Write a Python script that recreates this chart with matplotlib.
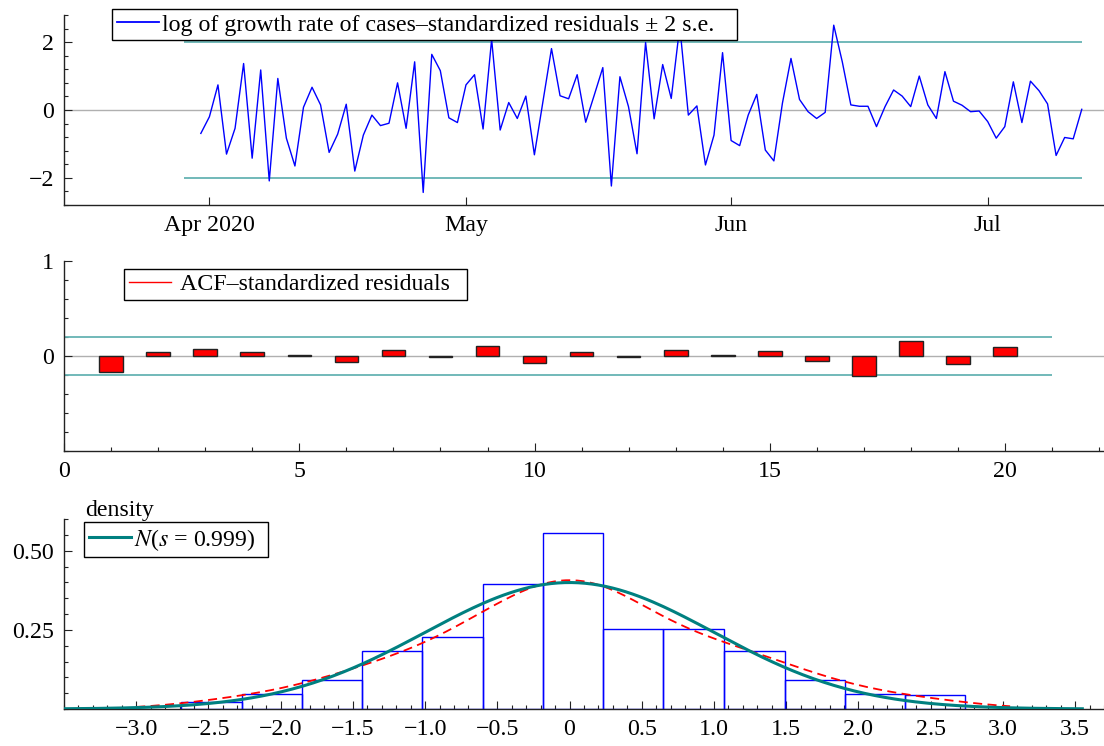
"""Residual diagnostics: standardized residuals, ACF and density."""

import matplotlib
matplotlib.use("Agg")
import matplotlib.pyplot as plt
from matplotlib.lines import Line2D
from matplotlib.ticker import MultipleLocator, FixedLocator, FuncFormatter
import numpy as np
import pandas as pd

plt.rcParams["font.family"] = ["Liberation Serif", "DejaVu Serif"]
plt.rcParams["mathtext.fontset"] = "stix"
plt.rcParams["font.size"] = 17.2

# --- data ---
dates = pd.date_range("2020-03-31", periods=104, freq="D")
resid = [
    -0.69, -0.20, 0.74, -1.30, -0.54, 1.37, -1.42, 1.18, -2.09, 0.93,
    -0.83, -1.65, 0.08, 0.67, 0.15, -1.25, -0.71, 0.17, -1.80, -0.74,
    -0.15, -0.46, -0.39, 0.80, -0.54, 1.42, -2.43, 1.64, 1.16, -0.23,
    -0.37, 0.74, 1.04, -0.56, 2.08, -0.59, 0.22, -0.25, 0.41, -1.32,
    0.25, 1.81, 0.42, 0.33, 1.04, -0.36, 0.44, 1.25, -2.24, 0.98,
    0.10, -1.29, 1.99, -0.26, 1.34, 0.34, 2.47, -0.15, 0.12, -1.62,
    -0.74, 1.69, -0.90, -1.05, -0.15, 0.46, -1.18, -1.50, 0.20, 1.52,
    0.31, -0.05, -0.25, -0.07, 2.50, 1.42, 0.15, 0.11, 0.11, -0.49,
    0.10, 0.59, 0.41, 0.10, 1.00, 0.15, -0.25, 1.13, 0.26, 0.14,
    -0.05, -0.03, -0.34, -0.83, -0.49, 0.83, -0.37, 0.85, 0.57, 0.18,
    -1.34, -0.81, -0.85, 0.02,
]
band_dates = pd.to_datetime(["2020-03-29", "2020-07-12"])
se_band = 2.0
month_ticks = pd.to_datetime(["2020-04-01", "2020-05-01", "2020-06-01", "2020-07-01"])
month_labels = ["Apr 2020", "May", "Jun", "Jul"]

lags = np.arange(1, 21)
acf = [-0.165, 0.042, 0.070, 0.046, 0.015, -0.060, 0.064, -0.014, 0.109, -0.073,
       0.038, -0.014, 0.067, 0.007, 0.053, -0.056, -0.207, 0.155, -0.084, 0.091]
acf_band = 0.196

hist_edges = [-2.69, -2.27, -1.855, -1.44, -1.02, -0.60, -0.185, 0.23,
              0.65, 1.07, 1.49, 1.905, 2.32, 2.74]
hist_counts = [1, 2, 4, 8, 10, 17, 24, 11, 11, 8, 4, 2, 2]
norm_s = 0.999

# colours
c_line = "#0000ff"
c_band = "#66b3b3"
c_zero = "#b0b0b0"
c_norm = "#008080"
c_kde = "#ff0000"
c_axis = "#222222"

W, H = 1104, 746
fig = plt.figure(figsize=(W / 100, H / 100), dpi=100)


def panel(top, bottom):
    ax = fig.add_axes([64 / W, 1 - bottom / H, 1 - 64 / W, (bottom - top) / H])
    for s in ("top", "right"):
        ax.spines[s].set_visible(False)
    for s in ("left", "bottom"):
        ax.spines[s].set_color(c_axis)
        ax.spines[s].set_linewidth(1.0)
    ax.tick_params(which="major", direction="in", length=6, width=0.8,
                   color=c_axis, pad=7)
    ax.tick_params(which="minor", direction="in", length=3, width=0.8,
                   color=c_axis)
    return ax


def box_legend(ax, handles, labels, x, y, textpad=0.15):
    leg = ax.legend(handles, labels, loc="upper left",
                    bbox_to_anchor=(x / W, 1 - y / H), bbox_transform=fig.transFigure,
                    frameon=True, fancybox=False, framealpha=1, edgecolor="black",
                    borderpad=0.2, borderaxespad=0, handletextpad=textpad,
                    handlelength=1.75)
    leg.get_frame().set_linewidth(1.0)
    leg.set_zorder(10)
    return leg


# --- (1) standardized residuals over time ---
ax1 = panel(15, 205)
ax1.axhline(0, color=c_zero, lw=1.0, zorder=1)
ax1.hlines([se_band, -se_band], band_dates[0], band_dates[1], color=c_band, lw=1.3, zorder=2)
ax1.plot(dates, resid, color=c_line, lw=1.0, zorder=3)
ax1.set_xlim(dates[0] - pd.Timedelta(days=16), dates[0] + pd.Timedelta(days=105.6))
ax1.set_ylim(-2.8, 2.8)
ax1.set_yticks([-2, 0, 2])
ax1.set_yticklabels(["\u22122", "0", "2"])
ax1.yaxis.set_minor_locator(FixedLocator(np.arange(-2.8, 2.81, 0.4)))
ax1.set_xticks(month_ticks)
ax1.set_xticklabels(month_labels)
box_legend(ax1, [Line2D([], [], color=c_line, lw=1.3)],
           ["log of growth rate of cases\u2013standardized residuals \u00b1 2 s.e.   "], 112, 9)

# --- (2) ACF ---
ax2 = panel(261, 451)
ax2.axhline(0, color=c_zero, lw=1.0, zorder=1)
ax2.hlines([acf_band, -acf_band], 0, 21, color=c_band, lw=1.3, zorder=2)
ax2.bar(lags, acf, width=0.5, color="#ff0000", edgecolor="#222222", lw=1.0, zorder=3)
ax2.set_xlim(0, 22.1)
ax2.set_ylim(-1, 1)
ax2.set_yticks([0, 1])
ax2.yaxis.set_minor_locator(FixedLocator(np.arange(-1, 1.01, 0.2)))
ax2.set_xticks([0, 5, 10, 15, 20])
ax2.xaxis.set_minor_locator(MultipleLocator(1))
box_legend(ax2, [Line2D([], [], color=c_kde, lw=1.0)],
           ["ACF\u2013standardized residuals  "], 124, 269, textpad=0.4)

# --- (3) density ---
ax3 = panel(519, 709)
edges = np.array(hist_edges)
widths = np.diff(edges)
dens = np.array(hist_counts) / (sum(hist_counts) * widths)
ax3.bar(edges[:-1], dens, width=widths, align="edge", fill=False,
        edgecolor=c_line, lw=1.0, zorder=2)

r = np.array(resid)
bw = 1.06 * r.std(ddof=1) * len(r) ** -0.2
xk = np.linspace(-3.0, 3.05, 300)
kde = np.exp(-0.5 * ((xk[:, None] - r[None, :]) / bw) ** 2).sum(axis=1) / (len(r) * bw * np.sqrt(2 * np.pi))
ax3.plot(xk, kde, color=c_kde, lw=1.3, ls=(0, (5, 3)), zorder=3)

xn = np.linspace(-3.5, 3.55, 300)
ax3.plot(xn, np.exp(-0.5 * (xn / norm_s) ** 2) / (norm_s * np.sqrt(2 * np.pi)),
         color=c_norm, lw=2.2, zorder=4)

ax3.set_xlim(-3.5, 3.7)
ax3.set_ylim(0, 0.6)
ax3.set_yticks([0.25, 0.5])
ax3.set_yticklabels(["0.25", "0.50"])
ax3.yaxis.set_minor_locator(MultipleLocator(0.05))
ax3.set_xticks(np.arange(-3.0, 3.51, 0.5))
ax3.xaxis.set_major_formatter(FuncFormatter(
    lambda v, p: "0" if abs(v) < 1e-9 else f"{v:.1f}".replace("-", "\u2212")))
ax3.xaxis.set_minor_locator(MultipleLocator(0.1))
ax3.text(85 / W, 1 - 516 / H, "density", transform=fig.transFigure, ha="left", va="baseline")
box_legend(ax3, [Line2D([], [], color=c_norm, lw=2.2)],
           [r"$N$($s$ = 0.999)  "], 84, 522)

fig.savefig("out.png", dpi=100)
